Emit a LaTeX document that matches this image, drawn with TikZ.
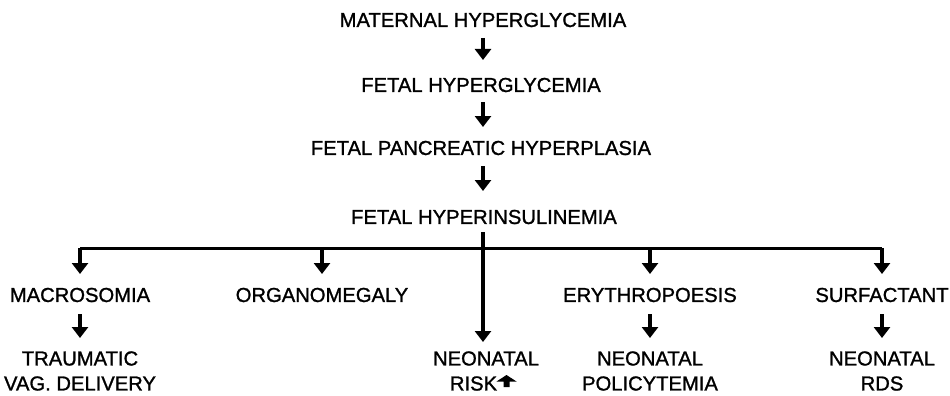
\documentclass[tikz,border=0pt]{standalone}
\usepackage{fontspec}
\setmainfont{Liberation Sans}[FakeBold=1.2]
\usetikzlibrary{arrows.meta}
\begin{document}
\begin{tikzpicture}[x=1pt,y=-1pt,
  lbl/.style={inner sep=0pt,align=center,font=\fontsize{20.2}{25}\selectfont},
  conn/.style={line width=3.4pt,-{Triangle[width=16pt,length=11pt]}},
  plain/.style={line width=3pt}]
\useasboundingbox (0,0) rectangle (950,396);
\fill[white] (0,0) rectangle (950,396);
\node[lbl] (mh) at (483,20) {MATERNAL HYPERGLYCEMIA};
\node[lbl] (fh) at (481,85) {FETAL HYPERGLYCEMIA};
\node[lbl] (fp) at (481,148) {FETAL PANCREATIC HYPERPLASIA};
\node[lbl] (fi) at (484,217) {FETAL HYPERINSULINEMIA};
\node[lbl] (ma) at (80,295) {MACROSOMIA};
\node[lbl] (or) at (322,295) {ORGANOMEGALY};
\node[lbl] (er) at (650,295) {ERYTHROPOESIS};
\node[lbl] (su) at (882,295) {SURFACTANT};
\node[lbl] (tr) at (80,371) {TRAUMATIC\\VAG. DELIVERY};
\node[lbl] (nr) at (486,371) {NEONATAL\\RISK\hspace*{25pt}};
\node[lbl] (np) at (650,371) {NEONATAL\\POLICYTEMIA};
\node[lbl] (rd) at (882,371) {NEONATAL\\RDS};
\coordinate (hl) at (80,248);
\coordinate (hr) at (882,248);
% up arrow after RISK
\fill (503.5,387) -- (503.5,381.5) -- (496.5,381.5) -- (506.5,375) -- (516.5,381.5) -- (509.5,381.5) -- (509.5,387) -- cycle;
\draw[conn] (483,38) -- (483,60);
\draw[conn] (483,102) -- (483,127);
\draw[conn] (483,166) -- (483,191);
\draw[plain] (hl) -- (hr);
\draw[conn] (483,232) -- (483,342);
\draw[conn] (hl) -- (80,274);
\draw[conn] (322,248) -- (322,274);
\draw[conn] (650,248) -- (650,274);
\draw[conn] (hr) -- (882,274);
\draw[conn] (80,314) -- (80,338);
\draw[conn] (650,314) -- (650,338);
\draw[conn] (882,314) -- (882,338);
\end{tikzpicture}
\end{document}
